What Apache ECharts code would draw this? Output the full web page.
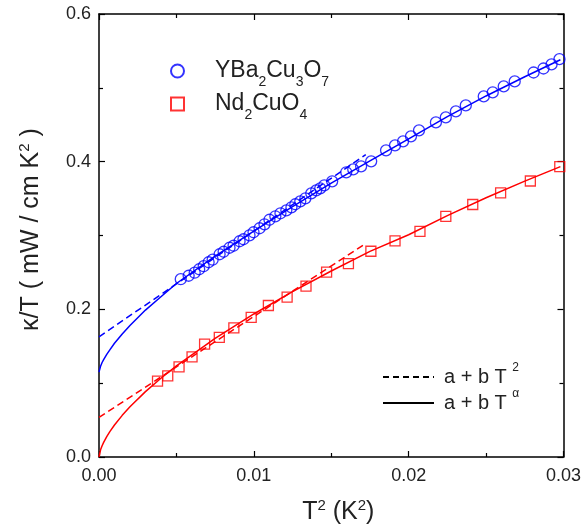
<!DOCTYPE html>
<html><head><meta charset="utf-8">
<script src="https://cdn.jsdelivr.net/npm/echarts@6/dist/echarts.min.js"></script>
<style>html,body{margin:0;padding:0;background:#fff}#c{width:584px;height:531px}</style>
</head><body><div id="c"></div>
<script>
const xTickLabels = ['0.00','0.01','0.02','0.03'];
const yTickLabels = ['0.0','0.2','0.4','0.6'];

const ybcoT2 = [0.00528,0.00579,0.00618,0.00647,0.00676,0.00708,0.00734,0.00779,0.00805,0.00843,0.00869,0.00908,0.00933,0.00972,0.00998,0.01037,0.01069,0.01101,0.01139,0.01172,0.01210,0.01243,0.01268,0.01300,0.01333,0.01371,0.01403,0.01429,0.01455,0.01506,0.01597,0.01642,0.01693,0.01758,0.01854,0.01912,0.01964,0.02015,0.02067,0.02176,0.02240,0.02305,0.02369,0.02485,0.02543,0.02614,0.02685,0.02807,0.02871,0.02923,0.02974];
const ybcoK = [0.2408,0.2455,0.2496,0.2543,0.2584,0.2638,0.2672,0.2746,0.2780,0.2834,0.2861,0.2922,0.2949,0.3003,0.3044,0.3098,0.3152,0.3213,0.3260,0.3301,0.3341,0.3382,0.3423,0.3463,0.3504,0.3571,0.3612,0.3639,0.3680,0.3734,0.3856,0.3896,0.3937,0.4004,0.4153,0.4221,0.4275,0.4343,0.4424,0.4532,0.4600,0.4681,0.4762,0.4884,0.4938,0.5019,0.5087,0.5208,0.5262,0.5317,0.5388];

const ndcoT2 = [0.00378,0.00444,0.00517,0.00601,0.00682,0.00777,0.00871,0.00983,0.01094,0.01215,0.01337,0.01470,0.01611,0.01756,0.01912,0.02073,0.02240,0.02414,0.02594,0.02786,0.02976];
const ndcoK = [0.1028,0.1100,0.1222,0.1357,0.1529,0.1619,0.1749,0.1890,0.2052,0.2165,0.2313,0.2503,0.2620,0.2787,0.2926,0.3057,0.3258,0.3420,0.3576,0.3738,0.3933];

// fit a + b T^alpha
const fitAlphaT2 = [0,0.0001,0.0002,0.0003,0.0005,0.0007,0.001,0.0015,0.002,0.003,0.004,0.005,0.0075,0.01,0.0125,0.015,0.0175,0.02,0.0225,0.025,0.0275,0.0298];
const ybcoAlphaK = [0.115,0.123,0.128,0.132,0.139,0.145,0.154,0.1665,0.178,0.199,0.217,0.235,0.272,0.306,0.339,0.371,0.401,0.431,0.461,0.489,0.515,0.538];
const ndcoAlphaK = [0,0.0097,0.0152,0.0198,0.0276,0.0344,0.0433,0.0564,0.068,0.0885,0.1067,0.1234,0.1606,0.1937,0.224,0.2519,0.2785,0.301,0.327,0.3512,0.3736,0.3933];

// fit a + b T^2 (straight in T^2)
const fitSqT2 = [0,0.01723];
const ybcoSqK = [0.1628,0.4095];
const ndcoSqK = [0.0537,0.2891];

const FONT = 'Liberation Sans, Arial, sans-serif';
const BLUE = '#0000ff', RED = '#ff0000', TXT = '#222';
const zip = (xs, ys) => xs.map((x, i) => [x, ys[i]]);

const axisBase = {
  type: 'value',
  axisLine: {show: true, onZero: false, lineStyle: {color: '#000', width: 1.5}},
  axisTick: {show: true, inside: true, length: 6, lineStyle: {color: '#000', width: 1.2}},
  minorTick: {show: true, splitNumber: 2, length: 4, lineStyle: {color: '#000', width: 1.2}},
  splitLine: {show: false}, minorSplitLine: {show: false}
};
const nameRich = {
  m: {fontFamily: FONT, fontSize: 25, lineHeight: 30, color: TXT},
  p: {fontFamily: FONT, fontSize: 15, lineHeight: 15, verticalAlign: 'top', padding: [1, 0, 0, 0], color: TXT}
};

const chart = echarts.init(document.getElementById('c'), null, {renderer: 'canvas'});
chart.setOption({
  backgroundColor: '#fff',
  animation: false,
  grid: {left: 99, right: 19, top: 14, bottom: 74},
  xAxis: [
    Object.assign({}, axisBase, {
      position: 'bottom', min: 0, max: 0.03, interval: 0.01,
      axisLabel: {formatter: (v, i) => xTickLabels[i], fontFamily: FONT, fontSize: 18, color: TXT, margin: 10},
      name: '{m|T}{p|2}{m| (K}{p|2}{m|)}', nameLocation: 'middle', nameGap: 40,
      nameTextStyle: {rich: nameRich, padding: [0, 0, 0, 14]}
    }),
    Object.assign({}, axisBase, {position: 'top', min: 0, max: 0.03, interval: 0.01, axisLabel: {show: false}})
  ],
  yAxis: [
    Object.assign({}, axisBase, {
      position: 'left', min: 0, max: 0.6, interval: 0.2,
      axisLabel: {formatter: (v, i) => yTickLabels[i], fontFamily: FONT, fontSize: 18, color: TXT, margin: 8},
      name: '{m|κ/T ( mW / cm K}{p|2}{m| )}', nameLocation: 'middle', nameGap: 53,
      nameTextStyle: {rich: nameRich, padding: [0, 0, 0, 12]}
    }),
    Object.assign({}, axisBase, {position: 'right', min: 0, max: 0.6, interval: 0.2, axisLabel: {show: false}})
  ],
  legend: [
    {
      data: ['YBa2Cu3O7', 'Nd2CuO4'], orient: 'vertical', left: 170, top: 56, padding: 0, itemGap: 0,
      itemWidth: 13, itemHeight: 13, selectedMode: false,
      formatter: n => ({'YBa2Cu3O7': '{m|YBa}{s|2}{m|Cu}{s|3}{m|O}{s|7}', 'Nd2CuO4': '{m|Nd}{s|2}{m|CuO}{s|4}'})[n],
      textStyle: {fontFamily: FONT, fontSize: 23, color: TXT, padding: [0, 0, 0, 26], rich: {
        m: {fontFamily: FONT, fontSize: 23, lineHeight: 30, color: TXT},
        s: {fontFamily: FONT, fontSize: 14, lineHeight: 14, verticalAlign: 'top', padding: [19, 0, 0, 0], color: TXT}
      }}
    },
    {
      data: ['fitSq', 'fitAlpha'], orient: 'vertical', left: 382, top: 362, padding: 0, itemGap: 1,
      itemWidth: 51, itemHeight: 14, selectedMode: false,
      itemStyle: {color: 'rgba(0,0,0,0)', borderColor: 'rgba(0,0,0,0)', borderWidth: 0},
      formatter: n => ({fitSq: '{m|a + b T }{u|2}', fitAlpha: '{m|a + b T }{u|α}'})[n],
      textStyle: {fontFamily: FONT, fontSize: 20, color: TXT, padding: [0, 0, 0, 5], rich: {
        m: {fontFamily: FONT, fontSize: 20, lineHeight: 30, color: TXT},
        u: {fontFamily: FONT, fontSize: 12, lineHeight: 12, verticalAlign: 'top', padding: [0, 0, 0, 0], color: TXT}
      }}
    }
  ],
  series: [
    {name: 'ybcoAlpha', type: 'line', data: zip(fitAlphaT2, ybcoAlphaK), symbol: 'none', color: BLUE, lineStyle: {color: BLUE, width: 1.5}},
    {name: 'ybcoSq', type: 'line', data: zip(fitSqT2, ybcoSqK), symbol: 'none', color: BLUE, lineStyle: {color: BLUE, width: 1.5, type: [7, 4]}},
    {name: 'ndcoAlpha', type: 'line', data: zip(fitAlphaT2, ndcoAlphaK), symbol: 'none', color: RED, lineStyle: {color: RED, width: 1.5}},
    {name: 'ndcoSq', type: 'line', data: zip(fitSqT2, ndcoSqK), symbol: 'none', color: RED, lineStyle: {color: RED, width: 1.5, type: [7, 4]}},
    {name: 'YBa2Cu3O7', type: 'scatter', data: zip(ybcoT2, ybcoK), symbol: 'circle', symbolSize: 11,
     itemStyle: {color: 'rgba(0,0,0,0)', borderColor: BLUE, borderWidth: 1.3}},
    {name: 'Nd2CuO4', type: 'scatter', data: zip(ndcoT2, ndcoK), symbol: 'rect', symbolSize: 10,
     itemStyle: {color: 'rgba(0,0,0,0)', borderColor: RED, borderWidth: 1.3}},
    {name: 'fitSq', type: 'line', data: [], symbol: 'none', color: '#000', lineStyle: {color: '#000', width: 1.2, type: [6, 4]}},
    {name: 'fitAlpha', type: 'line', data: [], symbol: 'none', color: '#000', lineStyle: {color: '#000', width: 1.2}}
  ]
});
</script></body></html>
